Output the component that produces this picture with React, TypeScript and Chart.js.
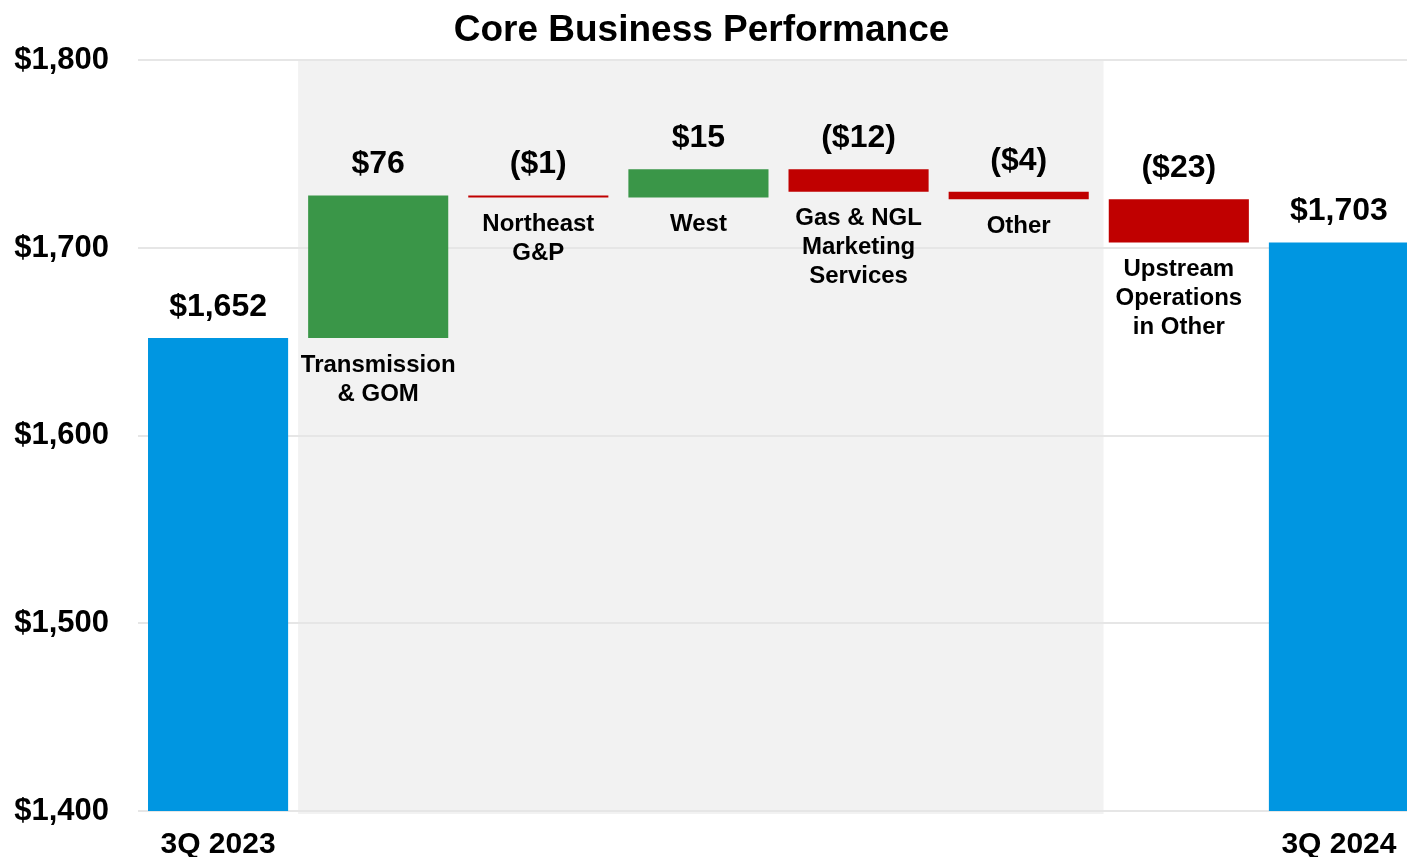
import React, { useEffect, useRef } from 'react';
import { Chart, registerables } from 'chart.js';

Chart.register(...registerables);

// ---- data ----
const chartTitle = 'Core Business Performance';
const categories = [
  '3Q 2023',
  'Transmission & GOM',
  'Northeast G&P',
  'West',
  'Gas & NGL Marketing Services',
  'Other',
  'Upstream Operations in Other',
  '3Q 2024',
];
const axisLabels = ['3Q 2023', '', '', '', '', '', '', '3Q 2024'];
const barLabelLines: string[][] = [
  [],
  ['Transmission', '& GOM'],
  ['Northeast', 'G&P'],
  ['West'],
  ['Gas & NGL', 'Marketing', 'Services'],
  ['Other'],
  ['Upstream', 'Operations', 'in Other'],
  [],
];
const startValue = 1652;
const changes = [76, -1, 15, -12, -4, -23];
const endValue = 1703;
const yMin = 1400;
const yMax = 1800;
const yStep = 100;
const shadedRange = [0.5, 5.53]; // in category units

// ---- styles ----
const FONT = '"Liberation Sans", Arial, Helvetica, sans-serif';
const COLOR_TOTAL = '#0096E1';
const COLOR_UP = '#3A9648';
const COLOR_DOWN = '#C00000';
const SHADE = '#F2F2F2';
const GRID = '#E6E6E6';

const fmtTotal = (v: number) => '$' + v.toLocaleString('en-US');
const fmtChange = (v: number) => (v < 0 ? '($' + Math.abs(v) + ')' : '$' + v);

// build floating ranges from the data
const ranges: [number, number][] = [];
const valueLabels: string[] = [];
const colors: string[] = [];
ranges.push([yMin, startValue]);
valueLabels.push(fmtTotal(startValue));
colors.push(COLOR_TOTAL);
let running = startValue;
for (const c of changes) {
  ranges.push([running, running + c]);
  valueLabels.push(fmtChange(c));
  colors.push(c >= 0 ? COLOR_UP : COLOR_DOWN);
  running += c;
}
ranges.push([yMin, endValue]);
valueLabels.push(fmtTotal(endValue));
colors.push(COLOR_TOTAL);

const shadePlugin = {
  id: 'shade',
  beforeDraw(chart: any) {
    const { x, y } = chart.scales;
    const ctx = chart.ctx;
    const left = x.getPixelForValue(shadedRange[0]);
    const right = x.getPixelForValue(shadedRange[1]);
    const top = y.getPixelForValue(yMax) - 1;
    const bottom = y.getPixelForValue(yMin) + 3;
    ctx.save();
    ctx.fillStyle = SHADE;
    ctx.fillRect(left, top, right - left, bottom - top);
    ctx.restore();
  },
};

const labelPlugin = {
  id: 'barLabels',
  afterDatasetsDraw(chart: any) {
    const ctx = chart.ctx;
    const meta = chart.getDatasetMeta(0);
    ctx.save();
    ctx.fillStyle = '#000';
    ctx.textAlign = 'center';
    ctx.textBaseline = 'middle';
    meta.data.forEach((bar: any, i: number) => {
      const top = Math.min(bar.y, bar.base);
      const bottom = Math.max(bar.y, bar.base);
      ctx.font = `bold 32px ${FONT}`;
      ctx.fillText(valueLabels[i], bar.x, top - 31);
      ctx.font = `bold 24px ${FONT}`;
      barLabelLines[i].forEach((line, j) => {
        ctx.fillText(line, bar.x, bottom + 27 + j * 29);
      });
    });
    ctx.restore();
  },
};

export default function App() {
  const ref = useRef<HTMLCanvasElement | null>(null);

  useEffect(() => {
    if (!ref.current) return;
    const chart = new Chart(ref.current, {
      type: 'bar',
      data: {
        labels: axisLabels,
        datasets: [
          {
            label: 'Core Business Performance',
            data: ranges as any,
            backgroundColor: colors,
            borderWidth: 0,
            borderSkipped: false,
            categoryPercentage: 1,
            barPercentage: 0.875,
          },
        ],
      },
      options: {
        responsive: false,
        animation: false,
        devicePixelRatio: 1,
        layout: { padding: 0 },
        plugins: {
          legend: { display: false },
          tooltip: { enabled: false },
          title: {
            display: true,
            text: chartTitle,
            color: '#000',
            font: { family: FONT, size: 37, weight: 'bold', lineHeight: 1.2 },
            padding: { top: 9, bottom: 7 },
          },
        },
        scales: {
          x: {
            grid: { display: false, drawTicks: false },
            border: { display: false },
            ticks: {
              color: '#000',
              font: { family: FONT, size: 30, weight: 'bold', lineHeight: 1.2 },
              padding: 16,
              maxRotation: 0,
              autoSkip: false,
            },
            afterFit(scale: any) {
              scale.height = 46;
              scale.paddingLeft = 0;
              scale.paddingRight = 0;
            },
          },
          y: {
            min: yMin,
            max: yMax,
            grid: { color: GRID, lineWidth: 2, drawTicks: false },
            border: { display: false },
            ticks: {
              stepSize: yStep,
              color: '#000',
              font: { family: FONT, size: 31, weight: 'bold' },
              padding: 29,
              callback: (v: any) => fmtTotal(Number(v)),
            },
            afterFit(scale: any) {
              scale.width = 154;
              scale.paddingTop = 0;
              scale.paddingBottom = 0;
            },
          },
        },
      },
      plugins: [shadePlugin, labelPlugin],
    });
    return () => chart.destroy();
  }, []);

  return (
    <div
      style={{
        position: 'fixed',
        left: 0,
        top: 0,
        width: '100vw',
        height: '100vh',
        overflow: 'hidden',
        background: '#fff',
      }}
    >
      <canvas
        ref={ref}
        width={1435}
        height={857}
        style={{ display: 'block', marginLeft: -16, width: 1435, height: 857 }}
        aria-label={categories.join(', ')}
      />
    </div>
  );
}
